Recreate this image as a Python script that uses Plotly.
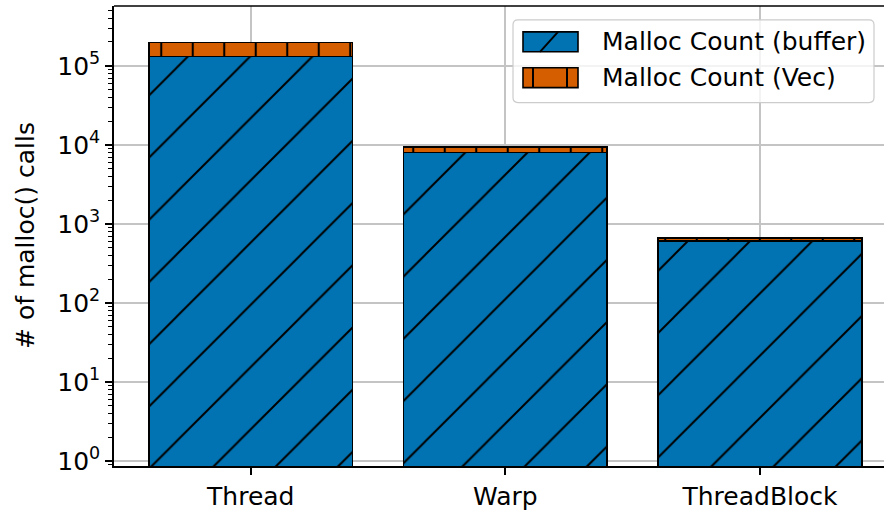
import plotly.graph_objects as go

# Per-strategy malloc() counts
categories = ["Thread", "Warp", "ThreadBlock"]
buffer_counts = [131000, 7950, 612]
vec_counts = [65500, 1450, 48]

# Axis ticks
y_tick_vals = [1, 10, 100, 1000, 10000, 100000]
y_tick_text = ["10<sup>0</sup>", "10<sup>1</sup>", "10<sup>2</sup>", "10<sup>3</sup>",
               "10<sup>4</sup>", "10<sup>5</sup>"]
series_names = ["Malloc Count (buffer)", "Malloc Count (Vec)"]

BLUE = "#0173b2"
ORANGE = "#d55e00"
FONT = "DejaVu Sans"

W, H = 884, 511
ML, MR, MT, MB = 114, 0, 6, 43
PW, PH = W - ML - MR, H - MT - MB

minor_vals = [k * 10 ** e for e in range(-1, 6) for k in range(2, 10)]

fig = go.Figure()
fig.add_trace(go.Bar(
    x=categories, y=buffer_counts, name=series_names[0], width=0.8,
    marker=dict(color=BLUE, line=dict(color="black", width=1.6),
                pattern=dict(shape="/", size=44, solidity=0.045,
                             fgcolor="black", fgopacity=1)),
    showlegend=False,
))
fig.add_trace(go.Bar(
    x=categories, y=vec_counts, name=series_names[1], width=0.8,
    marker=dict(color=ORANGE, line=dict(color="black", width=1.6),
                pattern=dict(shape="|", size=31.5, solidity=0.065,
                             fgcolor="black", fgopacity=1)),
    showlegend=False,
))


def px_x(p):
    return (p - ML) / PW


def px_y(p):
    return (H - MB - p) / PH


shapes = []
# top spine
shapes.append(dict(type="line", xref="paper", yref="paper", x0=0, x1=1, y0=1, y1=1,
                   line=dict(color="black", width=1.6)))

# legend frame with rounded corners
lx0, lx1, ly0, ly1, r = 513, 874, 20, 103, 5
rx, ry = r / PW, r / PH
X0, X1, Y0, Y1 = px_x(lx0), px_x(lx1), px_y(ly1), px_y(ly0)
path = (f"M{X0 + rx},{Y0} L{X1 - rx},{Y0} Q{X1},{Y0} {X1},{Y0 + ry} "
        f"L{X1},{Y1 - ry} Q{X1},{Y1} {X1 - rx},{Y1} L{X0 + rx},{Y1} "
        f"Q{X0},{Y1} {X0},{Y1 - ry} L{X0},{Y0 + ry} Q{X0},{Y0} {X0 + rx},{Y0} Z")
shapes.append(dict(type="path", xref="paper", yref="paper", path=path,
                   fillcolor="rgba(255,255,255,0.8)",
                   line=dict(color="rgba(204,204,204,1)", width=1.2)))

# legend swatches
sw_x0, sw_x1 = 523, 578
rows = [(32, 52), (68, 88)]
shapes.append(dict(type="rect", xref="paper", yref="paper",
                   x0=px_x(sw_x0), x1=px_x(sw_x1), y0=px_y(rows[0][1]), y1=px_y(rows[0][0]),
                   fillcolor=BLUE, line=dict(color="black", width=1.6)))
shapes.append(dict(type="line", xref="paper", yref="paper",
                   x0=px_x(540), x1=px_x(558), y0=px_y(rows[0][1]), y1=px_y(rows[0][0]),
                   line=dict(color="black", width=2)))
shapes.append(dict(type="rect", xref="paper", yref="paper",
                   x0=px_x(sw_x0), x1=px_x(sw_x1), y0=px_y(rows[1][1]), y1=px_y(rows[1][0]),
                   fillcolor=ORANGE, line=dict(color="black", width=1.6)))
for lxp in (533, 567):
    shapes.append(dict(type="line", xref="paper", yref="paper",
                       x0=px_x(lxp), x1=px_x(lxp), y0=px_y(rows[1][1]), y1=px_y(rows[1][0]),
                       line=dict(color="black", width=2)))

annotations = []
for name, (a, b) in zip(series_names, rows):
    annotations.append(dict(text=name, xref="paper", yref="paper", x=px_x(600),
                            y=px_y((a + b) / 2), xanchor="left", yanchor="middle",
                            showarrow=False, font=dict(family=FONT, size=25, color="black")))
annotations.append(dict(text="# of malloc() calls", xref="paper", yref="paper",
                        x=px_x(25), y=0.5, textangle=-90, xanchor="center", yanchor="middle",
                        showarrow=False, font=dict(family=FONT, size=25, color="black")))

fig.update_layout(
    barmode="stack",
    width=W, height=H,
    margin=dict(l=ML, r=MR, t=MT, b=MB, pad=0),
    paper_bgcolor="white", plot_bgcolor="white",
    font=dict(family=FONT, size=25, color="black"),
    shapes=shapes, annotations=annotations,
    xaxis=dict(range=[-0.537, 2.487], showline=True, linecolor="black", linewidth=1.6,
               ticks="outside", ticklen=7, tickwidth=1.5, tickcolor="black",
               showgrid=True, gridcolor="#c4c4c4", gridwidth=1.5,
               tickfont=dict(family=FONT, size=25, color="black"), zeroline=False),
    yaxis=dict(type="log", range=[-0.063, 5.756], showline=True, linecolor="black",
               linewidth=1.6, ticks="outside", ticklen=7, tickwidth=1.5, tickcolor="black",
               tickmode="array", tickvals=y_tick_vals, ticktext=y_tick_text,
               showgrid=True, gridcolor="#c4c4c4", gridwidth=1.5,
               minor=dict(tickmode="array", tickvals=minor_vals, ticks="outside",
                          ticklen=4, tickwidth=1.2, tickcolor="black", showgrid=False),
               tickfont=dict(family=FONT, size=25, color="black"), zeroline=False),
)

fig.write_html("out.html")
